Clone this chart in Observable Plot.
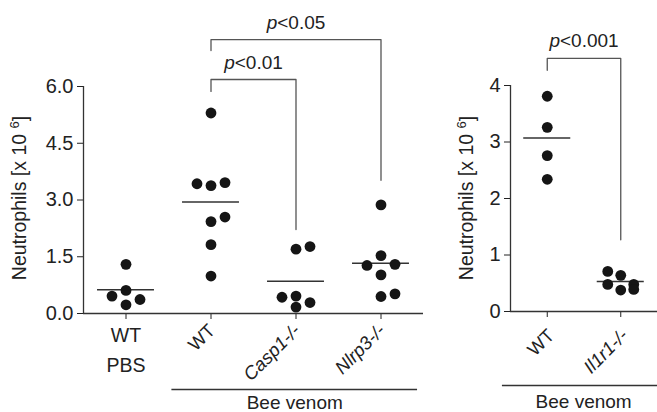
<!DOCTYPE html>
<html><head><meta charset="utf-8">
<script src="https://cdn.jsdelivr.net/npm/d3@7"></script>
<script src="https://cdn.jsdelivr.net/npm/@observablehq/plot@0.6"></script>
<style>
html,body{margin:0;padding:0;background:#fff;}
#chart{position:relative;width:657px;height:412px;overflow:hidden;background:#fff;}
#chart svg{position:absolute;top:0;}
</style></head><body><div id="chart"></div>
<script>
// ---------- data ----------
// left panel
const leftGenotypes  = ["WT", "WT", "Casp1-/-", "Nlrp3-/-"];
const leftTreatments = ["PBS", "Bee venom", "Bee venom", "Bee venom"];
const leftPBS_WT = [1.30, 0.61, 0.37, 0.46, 0.23];
const leftBV_WT  = [5.30, 3.38, 3.46, 3.43, 2.43, 2.55, 1.82, 0.99];
const leftCasp1  = [1.70, 1.77, 0.17, 0.29, 0.46, 0.43];
const leftNlrp3  = [2.87, 1.53, 1.30, 1.27, 1.02, 0.45, 0.52];
const leftMeans  = [0.63, 2.95, 0.85, 1.33];
const leftYTicks = [0, 1.5, 3, 4.5, 6];
const leftBrackets = [
  {from: 1, to: 2, top: 6.185, fromEnd: 5.87, toEnd: 2.22, label: "p<0.01"},
  {from: 1, to: 3, top: 7.24,  fromEnd: 6.95, toEnd: 3.52, label: "p<0.05"}
];
// right panel
const rightGenotypes  = ["WT", "Il1r1-/-"];
const rightTreatments = ["Bee venom", "Bee venom"];
const rightWT    = [3.81, 3.26, 2.76, 2.34];
const rightIl1r1 = [0.64, 0.71, 0.48, 0.48, 0.38, 0.39];
const rightMeans = [3.07, 0.53];
const rightYTicks = [0, 1, 2, 3, 4];
const rightBrackets = [
  {from: 0, to: 1, top: 4.48, fromEnd: 4.27, toEnd: 1.27, label: "p<0.001"}
];
const yLabelMain = "Neutrophils [x 10 ";
const yLabelSup = "6";
const yLabelEnd = "]";

// ---------- helpers ----------
const FONT = "'Liberation Sans', Arial, Helvetica, sans-serif";
const INK = "#222";

// column-scatter slot assignment (-1 left, 0 centre, 1 right)
function slots(vals, pxPerY, order, step, gap) {
  const placed = [];
  return vals.map(v => {
    let best = order[0], bestD = -1;
    for (const s of order) {
      const d = Math.min(Infinity, ...placed.map(p => Math.hypot((p.s - s) * step, (p.v - v) * pxPerY)));
      if (d >= gap) { best = s; break; }
      if (d >= bestD) { bestD = d; best = s; }
    }
    placed.push({v, s: best});
    return best;
  });
}

function panel(c) {
  const n = c.genotypes.length;
  const pxPerY = (c.height - c.mT - c.mB) / (c.yDomain[1] - c.yDomain[0]);
  const rows = c.values.flatMap((vals, gi) => {
    const s = slots(vals, pxPerY, c.slotOrder, c.step, 10.5);
    return vals.map((v, k) => ({gi, v, slot: s[k]}));
  });
  const groups = c.genotypes.map((g, gi) => ({gi, genotype: g, treatment: c.treatments[gi]}));
  const counts = d3.rollup(groups, v => v.length, d => d.treatment);
  const singles = groups.filter(d => counts.get(d.treatment) === 1);
  const multis = groups.filter(d => counts.get(d.treatment) > 1);
  const spans = Array.from(d3.group(multis, d => d.treatment), ([t, gs]) => ({
    treatment: t, x1: d3.min(gs, d => d.gi) - c.ulExtL, x2: d3.max(gs, d => d.gi) + c.ulExtR
  }));
  const bracketPts = c.brackets.flatMap(b => [
    {x: b.from, y: b.fromEnd, z: b.label}, {x: b.from, y: b.top, z: b.label},
    {x: b.to, y: b.top, z: b.label}, {x: b.to, y: b.toEnd, z: b.label}
  ]);
  const means = c.means.map((m, gi) => ({gi, m}));

  const svg = Plot.plot({
    width: c.width, height: c.height,
    marginLeft: c.mL, marginRight: c.mR, marginTop: c.mT, marginBottom: c.mB,
    style: {fontFamily: FONT, fontSize: "20px", color: INK, background: "transparent", overflow: "visible"},
    x: {domain: [-0.5, n - 0.5], ticks: d3.range(n), tickFormat: () => "", tickSize: 6, label: null},
    y: {domain: c.yDomain, ticks: c.yTicks, tickFormat: c.tickFmt, tickSize: 6, tickPadding: 4, label: null},
    marks: [
      Plot.ruleY([c.yDomain[0]], {stroke: "#333", strokeWidth: 1.3}),
      Plot.ruleX([-0.5], {stroke: "#333", strokeWidth: 1.3}),
      Plot.ruleY(means, {y: "m", x1: d => d.gi - c.meanHalf, x2: d => d.gi + c.meanHalf, stroke: "#333", strokeWidth: 1.5}),
      ...[-1, 0, 1].map(s => Plot.dot(rows.filter(d => d.slot === s), {
        x: "gi", y: "v", dx: s * c.step, r: 5.4, fill: "#151515", stroke: "none"
      })),
      Plot.line(bracketPts, {x: "x", y: "y", z: "z", stroke: "#555", strokeWidth: 1.3, curve: "linear"}),
      Plot.text(c.brackets, {x: d => (d.from + d.to) / 2, y: "top", text: "label", dy: -17, fontSize: 19, fill: INK}),
      // rotated genotype labels
      Plot.text(multis.filter(d => d.genotype === "WT"), {x: "gi", y: () => 0, text: "genotype", rotate: -45, textAnchor: "end", dx: c.rotDx, dy: c.rotDy, fontSize: 18.5, fill: INK}),
      Plot.text(multis.filter(d => d.genotype !== "WT"), {x: "gi", y: () => 0, text: "genotype", rotate: -45, textAnchor: "end", dx: c.rotDx, dy: c.rotDy, fontSize: 18.5, fontStyle: "italic", fill: INK}),
      // single-group labels (horizontal)
      Plot.text(singles, {x: "gi", y: () => 0, text: "genotype", dy: 22, fontSize: 19.5, fill: INK}),
      Plot.text(singles, {x: "gi", y: () => 0, text: "treatment", dy: 52, fontSize: 19.5, fill: INK}),
      // treatment underline + label
      Plot.ruleY(spans, {y: () => 0, x1: "x1", x2: "x2", dy: c.ulDy, stroke: "#333", strokeWidth: 1.3}),
      Plot.text(spans, {x: d => (d.x1 + d.x2) / 2, y: () => 0, text: "treatment", dy: c.ulDy + c.ulTextDy, fontSize: 19, fill: INK})
    ]
  });
  svg.style.left = c.left + "px";
  const sel = d3.select(svg);
  // italic "p" in significance labels
  sel.selectAll("text").each(function() {
    const t = this.textContent;
    if (/^p</.test(t) && this.childElementCount === 0) {
      this.textContent = "";
      d3.select(this).append("tspan").attr("font-style", "italic").text("p");
      d3.select(this).append("tspan").text(t.slice(1));
    }
  });
  // y axis label with superscript
  const lbl = sel.append("text")
    .attr("transform", `translate(${c.labelX},${c.labelY}) rotate(-90)`)
    .attr("text-anchor", "middle").attr("fill", INK)
    .attr("font-family", FONT).attr("font-size", 19.5);
  lbl.append("tspan").text(yLabelMain);
  lbl.append("tspan").attr("font-size", 13).attr("dy", "-0.55em").text(yLabelSup);
  lbl.append("tspan").attr("dy", "0.4em").text(yLabelEnd);
  return svg;
}

const chart = document.getElementById("chart");
chart.appendChild(panel({
  left: 0, width: 430, height: 412, mL: 83, mR: 7, mT: 86, mB: 99,
  genotypes: leftGenotypes, treatments: leftTreatments,
  values: [leftPBS_WT, leftBV_WT, leftCasp1, leftNlrp3], means: leftMeans,
  yDomain: [0, 6], yTicks: leftYTicks, tickFmt: d3.format(".1f"),
  brackets: leftBrackets, slotOrder: [0, 1, -1], step: 14, meanHalf: 0.335,
  rotDx: 1, rotDy: 14, ulDy: 76, ulExtL: 0.46, ulExtR: 0.43, ulTextDy: 13,
  labelX: 26, labelY: 198
}));
chart.appendChild(panel({
  left: 440, width: 217, height: 412, mL: 70, mR: 0, mT: 85, mB: 101,
  genotypes: rightGenotypes, treatments: rightTreatments,
  values: [rightWT, rightIl1r1], means: rightMeans,
  yDomain: [0, 4], yTicks: rightYTicks, tickFmt: d3.format("d"),
  brackets: rightBrackets, slotOrder: [0, -1, 1], step: 13, meanHalf: 0.32,
  rotDx: 4, rotDy: 21, ulDy: 74, ulExtL: 0.61, ulExtR: 0.6, ulTextDy: 16,
  labelX: 33, labelY: 198
}));
</script></body></html>
